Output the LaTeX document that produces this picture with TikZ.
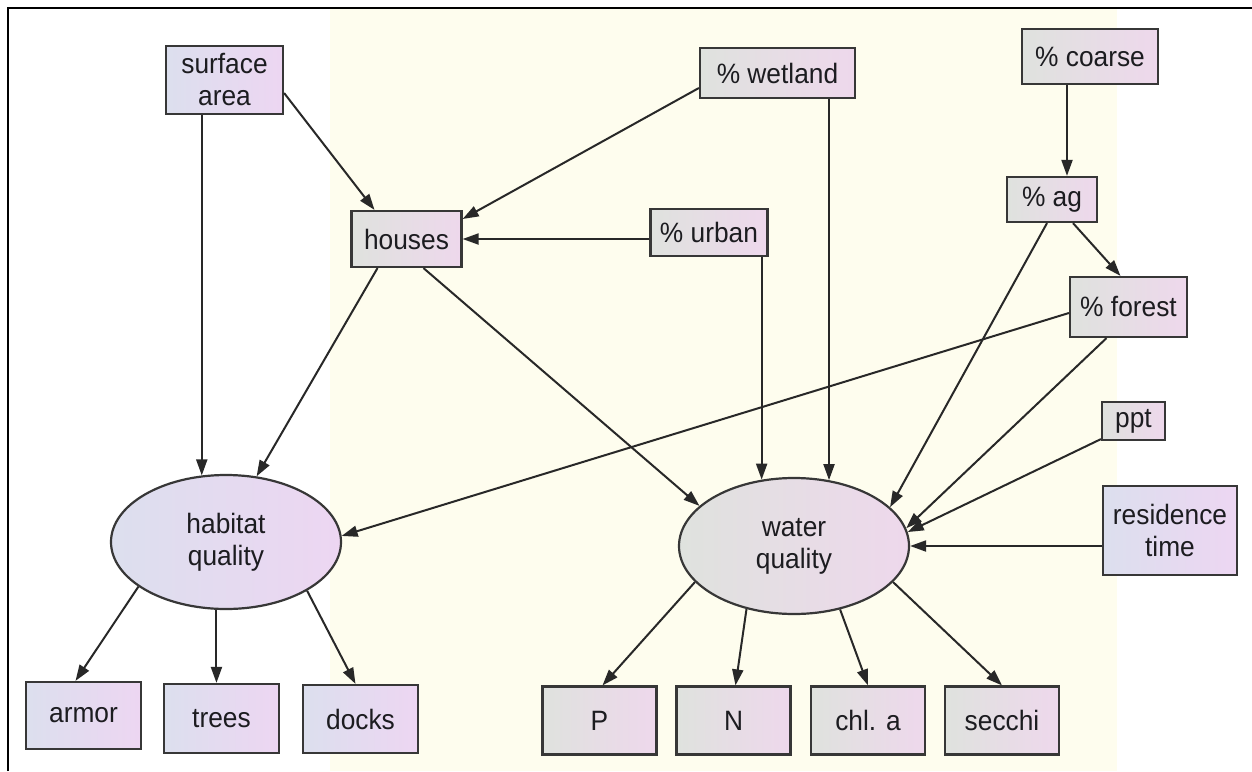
\documentclass[tikz,border=0pt]{standalone}
\usepackage{fontspec}
\setmainfont[FakeStretch=0.94]{Liberation Sans}
\usetikzlibrary{arrows.meta,shapes.geometric,calc}
\definecolor{bgyellow}{RGB}{254,253,238}
\definecolor{edgecol}{RGB}{40,40,40}
\definecolor{bordercol}{RGB}{55,55,55}
\definecolor{lavl}{RGB}{220,223,238}
\definecolor{pinkr}{RGB}{237,214,242}
\definecolor{grayl}{RGB}{223,226,222}
\definecolor{pinky}{RGB}{238,216,236}
\definecolor{txt}{RGB}{28,28,32}
\begin{document}
\begin{tikzpicture}[x=1pt,y=-1pt,
  font=\fontsize{28}{32}\selectfont,
  base/.style={draw=bordercol, line width=2.2pt, text=txt, align=center, inner sep=0pt},
  boxw/.style={base, rectangle, left color=lavl, right color=pinkr},
  boxy/.style={base, rectangle, left color=grayl, right color=pinky},
  latentw/.style={base, ellipse, left color=lavl, right color=pinkr},
  latenty/.style={base, ellipse, left color=grayl, right color=pinky},
  arr/.style={draw=edgecol, line width=2pt, -{Triangle[length=16pt,width=11pt]}},
  sz/.style 2 args={minimum width=#1pt, minimum height=#2pt}
]
\fill[white] (0,0) rectangle (1252,771);
\useasboundingbox (0,0) rectangle (1252,771);
\fill[bgyellow] (330,9) rectangle (1117,771);
\draw[line width=2.2pt, black] (8,771) -- (8,8) -- (1252,8);

% nodes
\node[boxw, sz={117}{68}] (sa) at (224.5,80) {surface\\area};
\node[boxy, sz={155}{50}] (wet) at (777.5,73) {\% wetland};
\node[boxy, sz={136}{55}] (coarse) at (1090,56.5) {\% coarse};
\node[boxy, sz={110}{56}] (houses) at (406.5,239) {houses};
\node[boxy, sz={117}{47}] (urban) at (709,232.5) {\% urban};
\node[boxy, sz={90}{45}] (ag) at (1052,199.5) {\% ag};
\node[boxy, sz={117}{60}] (forest) at (1128.5,307) {\% forest};
\node[boxy, sz={63}{38}] (ppt) at (1133.5,421) {ppt};
\node[boxw, sz={134}{89}] (res) at (1170,530.5) {residence\\time};
\node[latentw, sz={230}{134}] (hq) at (226,542) {habitat\\quality};
\node[latenty, sz={230}{136}] (wq) at (794,546) {water\\quality};
\node[boxw, sz={115}{67}] (armor) at (83.5,715.5) {armor};
\node[boxw, sz={115}{69}] (trees) at (221.5,718.5) {trees};
\node[boxw, sz={115}{68}] (docks) at (360.5,719) {docks};
\node[boxy, sz={114}{68}] (P) at (599.5,720.5) {P};
\node[boxy, sz={114}{68}] (N) at (733.5,720.5) {N};
\node[boxy, sz={114}{68}] (chl) at (868,720.5) {chl. a};
\node[boxy, sz={114}{68}] (secchi) at (1002,720.5) {secchi};

% edges
\draw[arr] (sa.south -| hq.110) -- (hq.110);
\draw[arr] ([yshift=-13pt]sa.east) -- ([xshift=-32pt]houses.north);
\draw[arr] ([yshift=-15pt]wet.west) -- ([yshift=20pt]houses.east);
\draw[arr] (urban.west |- houses.east) -- (houses.east);
\draw[arr] ([xshift=-29pt]houses.south) -- (hq.65);
\draw[arr] ([xshift=17pt]houses.south) -- (wq.157);
\draw[arr] (urban.south -| wq.116) -- (wq.116);
\draw[arr] (wet.south -| wq.62) -- (wq.62);
\path ([xshift=15pt]ag.north) coordinate (agN);
\draw[arr] (coarse.south -| agN) -- (agN);
\draw[arr] ([xshift=21pt]ag.south) -- ([xshift=-8pt]forest.north);
\draw[arr] ([xshift=-5pt]ag.south) -- (wq.22);
\draw[arr] ([yshift=-6pt]forest.west) -- (hq.3);
\draw[arr] ([xshift=-22pt]forest.south) -- (wq.9);
\draw[arr] ([yshift=2pt]ppt.south west) -- (wq.7);
\draw[arr] (wq.east -| res.west) -- (wq.east);
\draw[arr] (hq.207) -- ([xshift=-8pt]armor.north);
\draw[arr] (hq.262) -- (hq.262 |- trees.north);
\draw[arr] (hq.329) -- ([xshift=-5pt]docks.north);
\draw[arr] (wq.200) -- ([xshift=3pt]P.north);
\draw[arr] (wq.233) -- ([xshift=2pt]N.north);
\draw[arr] (wq.306) -- (chl.north);
\draw[arr] (wq.340) -- (secchi.north);
\end{tikzpicture}
\end{document}
